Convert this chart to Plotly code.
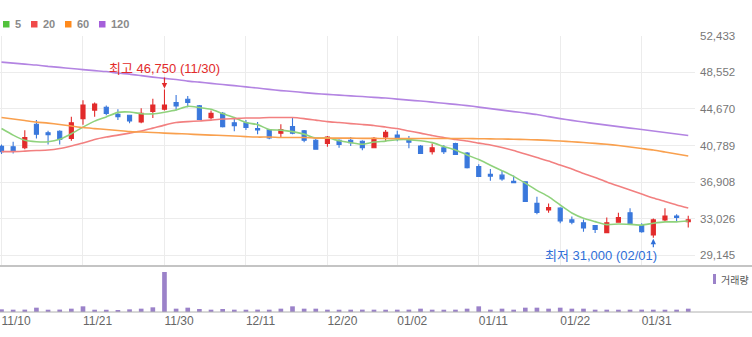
import plotly.graph_objects as go

# ---- daily candles (KRW) ----
dates = [
    "2023-11-10", "2023-11-13", "2023-11-14", "2023-11-15", "2023-11-16", "2023-11-17",
    "2023-11-20", "2023-11-21", "2023-11-22", "2023-11-23", "2023-11-24", "2023-11-27",
    "2023-11-28", "2023-11-29", "2023-11-30", "2023-12-01", "2023-12-04", "2023-12-05",
    "2023-12-06", "2023-12-07", "2023-12-08", "2023-12-11", "2023-12-12", "2023-12-13",
    "2023-12-14", "2023-12-15", "2023-12-18", "2023-12-19", "2023-12-20", "2023-12-21",
    "2023-12-22", "2023-12-26", "2023-12-27", "2023-12-28", "2024-01-02", "2024-01-03",
    "2024-01-04", "2024-01-05", "2024-01-08", "2024-01-09", "2024-01-10", "2024-01-11",
    "2024-01-12", "2024-01-15", "2024-01-16", "2024-01-17", "2024-01-18", "2024-01-19",
    "2024-01-22", "2024-01-23", "2024-01-24", "2024-01-25", "2024-01-26", "2024-01-29",
    "2024-01-30", "2024-01-31", "2024-02-01", "2024-02-02", "2024-02-05", "2024-02-06",
]
opens = [
    40700, 40650, 40550, 43050, 42150, 42300, 41550, 43650, 44550, 44850,
    44100, 44000, 43300, 44400, 44650, 45350, 45700, 45000, 43750, 44200,
    43200, 43200, 42600, 42450, 42100, 42800, 42350, 41350, 41000, 41350,
    41350, 41250, 40550, 41700, 41900, 41350, 40750, 40150, 40550, 41000,
    40000, 38550, 37750, 37650, 37000, 36950, 34650, 33950, 34150, 32900,
    32600, 32300, 31550, 32650, 33650, 32300, 31300, 32900, 33300, 32700,
]
highs = [
    40900, 41200, 42400, 43500, 42350, 42400, 43850, 45600, 45350, 45050,
    44650, 44050, 44750, 45750, 46750, 46150, 46050, 45100, 44500, 44350,
    43800, 43500, 43300, 42500, 43050, 43750, 42450, 41550, 41800, 41450,
    41700, 41350, 41700, 42450, 42350, 41800, 40850, 41000, 40850, 41100,
    40100, 38800, 38300, 38100, 37600, 37000, 35350, 34650, 34250, 33250,
    32950, 32350, 33150, 33650, 34150, 32550, 33050, 34150, 33500, 33350,
]
lows = [
    39900, 39950, 40400, 41550, 40900, 40900, 41300, 43000, 43850, 44000,
    43500, 43150, 43150, 43700, 44500, 44500, 44850, 43500, 43550, 42700,
    42300, 42450, 42000, 41450, 41700, 42000, 41150, 40350, 40650, 40550,
    40750, 40300, 40500, 41250, 41250, 40500, 39900, 39850, 39900, 39800,
    38350, 37450, 37050, 37050, 36800, 34800, 33500, 33650, 32550, 32450,
    31650, 31500, 31500, 32600, 32350, 31550, 31000, 32700, 32700, 32100,
]
closes = [
    40150, 40200, 41650, 42000, 41950, 41450, 43200, 45100, 45200, 44200,
    43850, 43400, 44200, 45100, 45100, 45000, 45350, 43550, 44200, 42800,
    42900, 42700, 42450, 41600, 42500, 42100, 41350, 40400, 41700, 40900,
    41100, 40550, 41550, 42200, 41650, 41150, 39950, 40550, 40150, 39850,
    38450, 37500, 37550, 37250, 36850, 34850, 33700, 34200, 32800, 32650,
    32050, 31900, 32600, 33150, 32450, 31650, 32900, 33300, 33150, 32900,
]

# ---- moving averages ----
ma5 = [
    42600, 41900, 41350, 41200, 41190, 41450, 42050, 42740, 43380, 43830,
    44310, 44350, 44170, 44150, 44330, 44560, 44950, 44820, 44640, 44180,
    43760, 43230, 43010, 42490, 42430, 42270, 42000, 41590, 41610, 41290,
    41090, 40930, 41160, 41260, 41410, 41420, 41300, 41100, 40690, 40330,
    39790, 39300, 38700, 38120, 37520, 36800, 36040, 35370, 34480, 33640,
    33080, 32720, 32400, 32470, 32430, 32350, 32550, 32690, 32690, 32780,
]
ma20 = [
    40150, 40150, 40200, 40260, 40310, 40470, 40740, 41050, 41430, 41690,
    41900, 42110, 42330, 42640, 42960, 43230, 43330, 43390, 43490, 43600,
    43650, 43710, 43710, 43760, 43760, 43760, 43650, 43490, 43330, 43230,
    43120, 43020, 42910, 42750, 42590, 42330, 42110, 41850, 41640, 41430,
    41270, 41050, 40840, 40580, 40260, 39890, 39520, 39150, 38720, 38300,
    37820, 37400, 36920, 36490, 36070, 35650, 35220, 34850, 34480, 34160,
]
ma60 = [
    43760, 43600, 43440, 43280, 43170, 43020, 42860, 42700, 42590, 42490,
    42380, 42270, 42220, 42170, 42110, 42060, 42010, 41950, 41900, 41850,
    41800, 41740, 41690, 41690, 41640, 41640, 41640, 41580, 41580, 41580,
    41580, 41550, 41550, 41530, 41530, 41530, 41530, 41530, 41530, 41530,
    41530, 41510, 41500, 41480, 41460, 41430, 41390, 41340, 41270, 41190,
    41110, 41020, 40920, 40790, 40630, 40470, 40310, 40100, 39890, 39680,
]
ma120 = [
    49640, 49540, 49430, 49330, 49190, 49080, 48960, 48850, 48740, 48640,
    48480, 48370, 48210, 48050, 47920, 47790, 47630, 47520, 47390, 47260,
    47150, 47020, 46890, 46750, 46620, 46520, 46410, 46300, 46220, 46140,
    46060, 45990, 45900, 45830, 45720, 45610, 45510, 45400, 45270, 45160,
    45030, 44870, 44710, 44550, 44390, 44240, 44080, 43860, 43650, 43460,
    43280, 43120, 42960, 42800, 42640, 42490, 42330, 42170, 42010, 41850,
]

# ---- traded volume (shares) ----
volumes = [
    28000, 24500, 25000, 45500, 24000, 25500, 35000, 59500, 24000, 23500,
    17500, 28000, 35000, 49000, 420000, 35000, 45500, 31500, 24500, 31500,
    24500, 24000, 25000, 24500, 35000, 59500, 35000, 35000, 24500, 24000,
    24500, 25000, 24500, 24000, 24500, 25000, 35000, 24500, 24000, 24500,
    35000, 59500, 24500, 35000, 24500, 45500, 45500, 35000, 45500, 35000,
    35000, 24500, 24500, 24000, 24500, 25000, 24500, 24000, 24500, 35000,
]

tick_dates = ["2023-11-10", "2023-11-21", "2023-11-30", "2023-12-11", "2023-12-20",
              "2024-01-02", "2024-01-11", "2024-01-22", "2024-01-31"]
tick_labels = ["11/10", "11/21", "11/30", "12/11", "12/20",
               "01/02", "01/11", "01/22", "01/31"]
price_ticks = [29145, 33026, 36908, 40789, 44670, 48552, 52433]

ma_names = ["5", "20", "60", "120"]
ma_series = [ma5, ma20, ma60, ma120]
ma_line_colors = ["#8fd27c", "#f28080", "#f9a04e", "#b384e2"]
ma_key_colors = ["#52c23c", "#f04a4a", "#ff8a1c", "#a55fda"]

UP = "#e22b2b"
DOWN = "#3a78dc"
LOW_BLUE = "#2f6fd8"
VOL = "#9b82c9"
GRID = "#ececec"

W, H = 752, 337
PLOT_RIGHT = 695


def px_x(x):
    return x / W


def px_y(y):
    return 1 - y / H


fig = go.Figure()

for name, vals, col in zip(ma_names, ma_series, ma_line_colors):
    fig.add_trace(go.Scatter(
        x=dates, y=vals, mode="lines", name=name,
        line=dict(color=col, width=1.6, shape="spline", smoothing=0.6),
        hoverinfo="skip", xaxis="x", yaxis="y",
    ))

fig.add_trace(go.Candlestick(
    x=dates, open=opens, high=highs, low=lows, close=closes,
    increasing=dict(line=dict(color=UP, width=1.1), fillcolor=UP),
    decreasing=dict(line=dict(color=DOWN, width=1.1), fillcolor=DOWN),
    whiskerwidth=0, xaxis="x", yaxis="y", showlegend=False,
))

fig.add_trace(go.Bar(
    x=dates, y=volumes, marker=dict(color=VOL, line=dict(width=0)),
    xaxis="x2", yaxis="y2", showlegend=False, hoverinfo="skip",
))

n = len(dates)
x_range = [-0.13, 59.58]
dom_x = [0, px_x(PLOT_RIGHT)]

fig.update_layout(
    width=W, height=H,
    margin=dict(l=0, r=0, t=0, b=0),
    paper_bgcolor="white", plot_bgcolor="white",
    showlegend=False,
    boxgap=0.5,
    bargap=0.6,
    font=dict(family="Liberation Sans, Noto Sans CJK KR, sans-serif", size=11, color="#666"),
    xaxis=dict(
        domain=dom_x, anchor="y", type="category", range=x_range,
        rangeslider=dict(visible=False),
        tickmode="array", tickvals=tick_dates, ticktext=tick_labels,
        showticklabels=False, ticks="",
        showgrid=True, gridcolor=GRID, gridwidth=1,
        zeroline=False, showline=False, automargin=False,
        categoryorder="array", categoryarray=dates,
    ),
    yaxis=dict(
        domain=[px_y(266), px_y(35.7)], anchor="x",
        range=[28010, 52445], side="right",
        tickmode="array", tickvals=price_ticks,
        ticktext=[f"{v:,}" for v in price_ticks],
        tickfont=dict(size=11.5, color="#777"),
        ticks="", ticklabelstandoff=4,
        showgrid=True, gridcolor=GRID, gridwidth=1,
        zeroline=False, showline=False, automargin=False,
    ),
    xaxis2=dict(
        domain=dom_x, anchor="y2", type="category", range=x_range,
        tickmode="array", tickvals=tick_dates, ticktext=tick_labels,
        ticklabelposition="outside right",
        tickfont=dict(size=12, color="#666"),
        ticks="", showgrid=False, zeroline=False, showline=False,
        automargin=False,
        categoryorder="array", categoryarray=dates,
    ),
    yaxis2=dict(
        domain=[px_y(312), px_y(268)], anchor="x2",
        range=[0, max(volumes) * 1.1],
        showticklabels=False, ticks="", showgrid=False,
        zeroline=False, showline=False, automargin=False,
    ),
)

shapes = [
    # separator below the price panel
    dict(type="line", xref="paper", yref="y domain", x0=0, x1=1, y0=0, y1=0,
         line=dict(color="#c4c4c4", width=2)),
    # volume baseline
    dict(type="line", xref="paper", yref="y2 domain", x0=0, x1=1, y0=0, y1=0,
         line=dict(color="#b0b0b0", width=1)),
    # volume key
    dict(type="rect", xref="paper", yref="paper",
         x0=px_x(713), x1=px_x(716), y0=px_y(284), y1=px_y(274),
         fillcolor=VOL, line=dict(width=0)),
]

annotations = []
key_x = [3, 31, 65, 99]
for name, col, kx in zip(ma_names, ma_key_colors, key_x):
    shapes.append(dict(type="rect", xref="paper", yref="paper",
                       x0=px_x(kx), x1=px_x(kx + 6.5),
                       y0=px_y(27.5), y1=px_y(21),
                       fillcolor=col, line=dict(width=0)))
    annotations.append(dict(xref="paper", yref="paper", x=px_x(kx + 9.5), y=px_y(24.3),
                            xanchor="left", yanchor="middle", showarrow=False,
                            text=f"<b>{name}</b>",
                            font=dict(size=11, color="#8a8a8a")))

annotations.append(dict(xref="paper", yref="paper", x=px_x(719), y=px_y(279.5),
                        xanchor="left", yanchor="middle", showarrow=False,
                        text="거래량", font=dict(size=10, color="#555",
                                               family="Noto Sans CJK KR")))

# highest high and lowest low of the window
hi_i = max(range(n), key=lambda k: highs[k])
lo_i = min(range(n), key=lambda k: lows[k])
hi_txt = f"최고 {highs[hi_i]:,} ({dates[hi_i][5:7]}/{dates[hi_i][8:]})"
lo_txt = f"최저 {lows[lo_i]:,} ({dates[lo_i][5:7]}/{dates[lo_i][8:]})"

annotations.append(dict(x=dates[hi_i], y=highs[hi_i], xref="x", yref="y",
                        text=hi_txt, showarrow=True, ax=0, ay=-21,
                        arrowhead=2, arrowsize=0.9, arrowwidth=1.2, arrowcolor=UP,
                        standoff=1, font=dict(size=13, color=UP)))
annotations.append(dict(x=dates[lo_i], y=lows[lo_i], xref="x", yref="y",
                        text="", showarrow=True, ax=0, ay=11,
                        arrowhead=2, arrowsize=0.9, arrowwidth=1.2, arrowcolor=LOW_BLUE,
                        standoff=1))
annotations.append(dict(x=dates[lo_i], y=lows[lo_i], xref="x", yref="y",
                        text=lo_txt, showarrow=False, xanchor="right",
                        xshift=6, yshift=-18,
                        font=dict(size=13, color=LOW_BLUE)))

fig.update_layout(shapes=shapes, annotations=annotations)

fig.write_html("out.html")
